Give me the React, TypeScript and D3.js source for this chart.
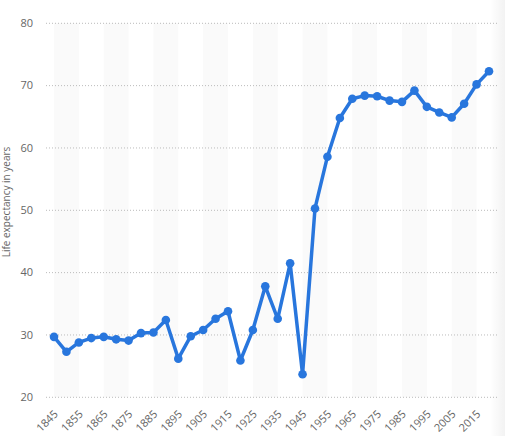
import React from 'react';
import * as d3 from 'd3';

const YEARS = [
  1845, 1850, 1855, 1860, 1865, 1870, 1875, 1880, 1885, 1890, 1895, 1900,
  1905, 1910, 1915, 1920, 1925, 1930, 1935, 1940, 1945, 1950, 1955, 1960,
  1965, 1970, 1975, 1980, 1985, 1990, 1995, 2000, 2005, 2010, 2015, 2020,
];
const LIFE_EXPECTANCY = [
  29.7, 27.3, 28.8, 29.5, 29.7, 29.3, 29.1, 30.3, 30.4, 32.4, 26.2, 29.8,
  30.8, 32.6, 33.8, 25.9, 30.8, 37.8, 32.6, 41.5, 23.7, 50.3, 58.6, 64.8,
  67.9, 68.4, 68.3, 67.6, 67.4, 69.2, 66.6, 65.7, 64.9, 67.1, 70.2, 72.3,
];
const X_TICKS = d3.range(1845, 2016, 10);
const Y_TICKS = [20, 30, 40, 50, 60, 70, 80];

const W = 505;
const H = 436;
const FONT = '"Open Sans", "DejaVu Sans", sans-serif';

const App: React.FC = () => {
  const x = d3.scaleLinear().domain([1845, 2020]).range([54, 489]);
  const y = d3.scaleLinear().domain([20, 80]).range([397.3, 23.3]);

  const line = d3.line<number>()
    .x((_, i) => x(YEARS[i]))
    .y(d => y(d));

  // shaded bands every other decade, 1845-1855, 1865-1875, ...
  const bands = d3.range(1845, 2016, 20);

  return (
    <svg width={W} height={H} style={{ position: 'absolute', left: 0, top: 0, fontFamily: FONT }}>
      <defs>
        <linearGradient id="edge" x1="0%" x2="100%">
          <stop offset="0%" stopColor="#000" stopOpacity={0} />
          <stop offset="100%" stopColor="#000" stopOpacity={0.05} />
        </linearGradient>
      </defs>
      <rect width={W} height={H} fill="#fff" />

      {bands.map(b => (
        <rect key={b} x={x(b)} y={y(80)} width={x(b + 10) - x(b)} height={y(20) - y(80)} fill="#fafafa" />
      ))}

      {Y_TICKS.map(t => (
        <g key={t}>
          <line x1={46} x2={497} y1={y(t)} y2={y(t)} stroke="#bbb" strokeWidth={1} strokeDasharray="1,2" />
          <text x={33} y={y(t)} dy="0.35em" textAnchor="end" fontSize={11} fill="#666">{t}</text>
        </g>
      ))}

      {X_TICKS.map(t => (
        <text
          key={t}
          transform={`translate(${x(t) + 2},${412}) rotate(-45)`}
          textAnchor="end"
          dy="0.35em"
          fontSize={11}
          fill="#666"
        >
          {t}
        </text>
      ))}

      <text transform={`translate(10,${202}) rotate(-90)`} textAnchor="middle" fontSize={10} fill="#666">
        Life expectancy in years
      </text>

      <path d={line(LIFE_EXPECTANCY) || undefined} fill="none" stroke="#2876dd" strokeWidth={3.5} strokeLinejoin="round" />
      {LIFE_EXPECTANCY.map((v, i) => (
        <circle key={YEARS[i]} cx={x(YEARS[i])} cy={y(v)} r={4.3} fill="#2876dd" />
      ))}

      <rect x={490} y={0} width={15} height={H} fill="url(#edge)" />
    </svg>
  );
};

export default App;
